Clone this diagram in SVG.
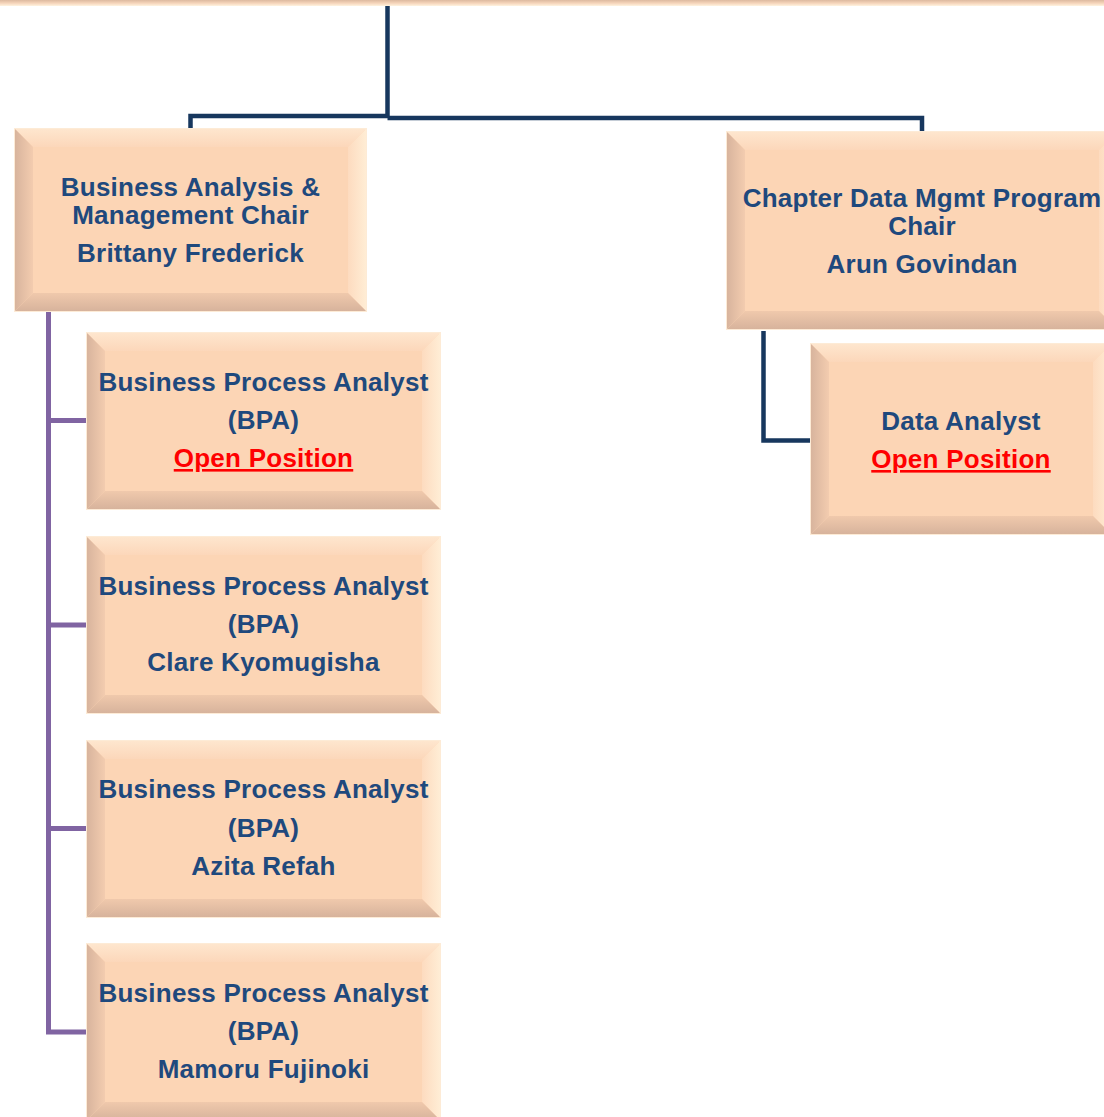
<svg xmlns="http://www.w3.org/2000/svg" width="1104" height="1117" viewBox="0 0 1104 1117">
<defs>
<linearGradient id="gTop" x1="0" y1="0" x2="0" y2="1"><stop offset="0" stop-color="#FEE6CE"/><stop offset="1" stop-color="#FCD7BA"/></linearGradient>
<linearGradient id="gLeft" x1="0" y1="0" x2="1" y2="0"><stop offset="0" stop-color="#D8B49D"/><stop offset="1" stop-color="#F3CCAF"/></linearGradient>
<linearGradient id="gRight" x1="0" y1="0" x2="1" y2="0"><stop offset="0" stop-color="#FDDBBF"/><stop offset="1" stop-color="#FFEDD5"/></linearGradient>
<linearGradient id="gBot" x1="0" y1="0" x2="0" y2="1"><stop offset="0" stop-color="#F0C9AC"/><stop offset="1" stop-color="#D7B39C"/></linearGradient>
<linearGradient id="gStrip" x1="0" y1="0" x2="0" y2="1"><stop offset="0" stop-color="#DDB99F"/><stop offset="0.55" stop-color="#F6D6BC"/><stop offset="1" stop-color="#FFF3E0"/></linearGradient>
</defs>
<style>
.base{fill:#FCD5B5;stroke:#FDEBD6;stroke-width:2}
.bt{fill:url(#gTop)}
.bl{fill:url(#gLeft)}
.br{fill:url(#gRight)}
.bb{fill:url(#gBot)}
.t{font-family:"Liberation Sans",Arial,Helvetica,sans-serif;font-weight:bold;font-size:26px;letter-spacing:0.25px;fill:#1F497D;text-anchor:middle}
.open{fill:#FF0000;text-decoration:underline}
.navy{fill:none;stroke:#17375E;stroke-width:4.5}
.purple{fill:none;stroke:#8064A2;stroke-width:5}
</style>

<rect x="0" y="0" width="1104" height="6" fill="url(#gStrip)"/>

<g id="connectors">
<path class="navy" d="M387.5 6 V118"/>
<path class="navy" d="M190.5 129 V116 H389"/>
<path class="navy" d="M387.5 118 H922 V132"/>
<path class="navy" d="M763.5 331 V440.5 H810"/>
<path class="purple" d="M48.5 312 V1032 H87"/>
<path class="purple" d="M48.5 420.5 H87"/>
<path class="purple" d="M48.5 625 H87"/>
<path class="purple" d="M48.5 828.5 H87"/>
</g>

<g id="node-bam-chair">
<rect class="base" x="15" y="129" width="351" height="182"/>
<polygon class="bt" points="15,129 366,129 348,147 33,147"/>
<polygon class="bl" points="15,129 33,147 33,293 15,311"/>
<polygon class="br" points="366,129 366,311 348,293 348,147"/>
<polygon class="bb" points="15,311 33,293 348,293 366,311"/>
<text class="t" x="190.5" y="196">Business Analysis &amp;</text>
<text class="t" x="190.5" y="224">Management Chair</text>
<text class="t" x="190.5" y="262">Brittany Frederick</text>
</g>

<g id="node-data-chair">
<rect class="base" x="727" y="132" width="390" height="197"/>
<polygon class="bt" points="727,132 1117,132 1099,150 745,150"/>
<polygon class="bl" points="727,132 745,150 745,311 727,329"/>
<polygon class="br" points="1117,132 1117,329 1099,311 1099,150"/>
<polygon class="bb" points="727,329 745,311 1099,311 1117,329"/>
<text class="t" x="922" y="207">Chapter Data Mgmt Program</text>
<text class="t" x="922" y="235">Chair</text>
<text class="t" x="922" y="273">Arun Govindan</text>
</g>

<g id="node-data-analyst">
<rect class="base" x="811" y="344" width="300" height="190"/>
<polygon class="bt" points="811,344 1111,344 1093,362 829,362"/>
<polygon class="bl" points="811,344 829,362 829,516 811,534"/>
<polygon class="br" points="1111,344 1111,534 1093,516 1093,362"/>
<polygon class="bb" points="811,534 829,516 1093,516 1111,534"/>
<text class="t" x="961" y="430">Data Analyst</text>
<text class="t open" x="961" y="468">Open Position</text>
</g>

<g id="node-bpa-open">
<rect class="base" x="87" y="333" width="353" height="176"/>
<polygon class="bt" points="87,333 440,333 422,351 105,351"/>
<polygon class="bl" points="87,333 105,351 105,491 87,509"/>
<polygon class="br" points="440,333 440,509 422,491 422,351"/>
<polygon class="bb" points="87,509 105,491 422,491 440,509"/>
<text class="t" x="263.5" y="391">Business Process Analyst</text>
<text class="t" x="263.5" y="429">(BPA)</text>
<text class="t open" x="263.5" y="467">Open Position</text>
</g>

<g id="node-bpa-clare">
<rect class="base" x="87" y="537" width="353" height="176"/>
<polygon class="bt" points="87,537 440,537 422,555 105,555"/>
<polygon class="bl" points="87,537 105,555 105,695 87,713"/>
<polygon class="br" points="440,537 440,713 422,695 422,555"/>
<polygon class="bb" points="87,713 105,695 422,695 440,713"/>
<text class="t" x="263.5" y="595">Business Process Analyst</text>
<text class="t" x="263.5" y="633">(BPA)</text>
<text class="t" x="263.5" y="671">Clare Kyomugisha</text>
</g>

<g id="node-bpa-azita">
<rect class="base" x="87" y="741" width="353" height="176"/>
<polygon class="bt" points="87,741 440,741 422,759 105,759"/>
<polygon class="bl" points="87,741 105,759 105,899 87,917"/>
<polygon class="br" points="440,741 440,917 422,899 422,759"/>
<polygon class="bb" points="87,917 105,899 422,899 440,917"/>
<text class="t" x="263.5" y="798">Business Process Analyst</text>
<text class="t" x="263.5" y="837">(BPA)</text>
<text class="t" x="263.5" y="875">Azita Refah</text>
</g>

<g id="node-bpa-mamoru">
<rect class="base" x="87" y="944" width="353" height="176"/>
<polygon class="bt" points="87,944 440,944 422,962 105,962"/>
<polygon class="bl" points="87,944 105,962 105,1102 87,1120"/>
<polygon class="br" points="440,944 440,1120 422,1102 422,962"/>
<polygon class="bb" points="87,1120 105,1102 422,1102 440,1120"/>
<text class="t" x="263.5" y="1002">Business Process Analyst</text>
<text class="t" x="263.5" y="1040">(BPA)</text>
<text class="t" x="263.5" y="1078">Mamoru Fujinoki</text>
</g>
</svg>
